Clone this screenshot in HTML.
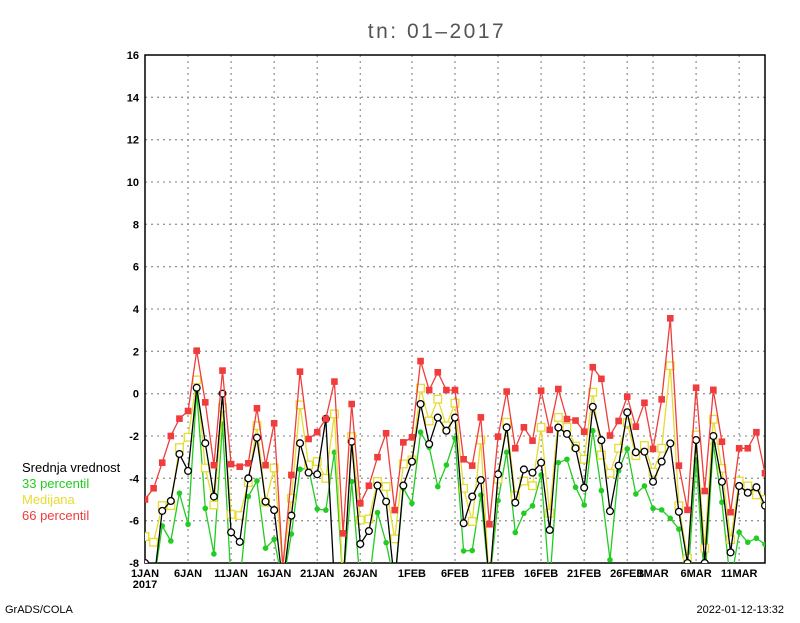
<!DOCTYPE html>
<html><head><meta charset="utf-8"><style>
body{margin:0;background:#fff;}
svg text{font-family:"Liberation Sans",sans-serif;}
</style></head><body>
<svg id="chart" width="800" height="618" viewBox="0 0 800 618" xmlns="http://www.w3.org/2000/svg">
<rect width="800" height="618" fill="#fff"/>
<text x="437" y="38" text-anchor="middle" font-size="21" fill="#555" letter-spacing="2.5">tn: 01–2017</text>
<defs><clipPath id="pc"><rect x="145" y="55" width="620" height="508"/></clipPath></defs>
<g id="grid"></g>
<g id="axes"></g>
<g id="series" clip-path="url(#pc)"></g>
<g font-size="13">
<text x="22" y="472" fill="#000">Srednja vrednost</text>
<text x="22" y="488" fill="#22cc22">33 percentil</text>
<text x="22" y="504" fill="#e6dc32">Medijana</text>
<text x="22" y="520" fill="#f03c3c">66 percentil</text>
</g>
<text x="5" y="613" font-size="11">GrADS/COLA</text>
<text x="784" y="613" font-size="11" text-anchor="end">2022-01-12-13:32</text>
</svg>
<script>
const yTicks=[-8,-6,-4,-2,0,2,4,6,8,10,12,14,16];
const xTickDays=[0,5,10,15,20,25,31,36,41,46,51,56,59,64,69];
const xTickLabels=["1JAN","6JAN","11JAN","16JAN","21JAN","26JAN","1FEB","6FEB","11FEB","16FEB","21FEB","26FEB","1MAR","6MAR","11MAR"];
const p66=[-5.0,-4.47,-3.26,-2.0,-1.18,-0.82,2.03,-0.41,-3.38,1.09,-3.33,-3.45,-3.29,-0.69,-3.38,-1.4,-8.2,-3.84,1.04,-2.14,-1.82,-1.19,0.57,-6.6,-0.49,-5.18,-4.35,-3.0,-1.87,-5.5,-2.3,-2.06,1.54,0.17,1.01,0.17,0.17,-3.1,-3.4,-1.12,-6.17,-2.03,0.1,-2.58,-1.59,-2.22,0.14,-1.71,0.22,-1.2,-1.27,-1.8,1.25,0.7,-1.98,-1.29,-0.14,-1.56,-0.43,-2.61,-0.27,3.56,-3.4,-5.49,0.28,-4.6,0.18,-2.27,-5.6,-2.58,-2.58,-1.82,-3.76];
const median=[-6.75,-7.02,-5.29,-5.29,-2.55,-2.06,0.65,-3.51,-5.26,-0.66,-5.7,-5.76,-4.2,-1.51,-5.13,-3.51,-8.2,-4.94,-0.53,-3.37,-3.21,-4.0,-0.96,-9,-2.03,-5.97,-5.92,-4.15,-4.39,-6.86,-3.32,-3.13,0.26,-1.29,-0.26,-1.52,-0.45,-4.47,-6.04,-2.19,-9,-4.04,-1.35,-4.82,-4.13,-4.35,-1.59,-5.65,-1.12,-1.59,-2.48,-3.1,0.07,-2.9,-3.76,-2.58,-1.37,-2.93,-2.45,-3.71,-2.58,1.32,-5.29,-7.78,-1.95,-7.3,-1.21,-3.53,-6.9,-4.13,-4.36,-4.78,-5.0];
const mean=[-8,-9,-5.54,-5.07,-2.85,-3.65,0.28,-2.34,-4.86,0.0,-6.55,-7.0,-4.0,-2.08,-5.1,-5.5,-9,-5.76,-2.34,-3.73,-3.81,-1.19,-9,-9,-2.27,-7.1,-6.49,-4.34,-5.1,-9,-4.34,-3.21,-0.49,-2.38,-1.13,-1.75,-1.13,-6.12,-4.86,-4.08,-9,-3.81,-1.59,-5.15,-3.58,-3.73,-3.26,-6.44,-1.6,-1.9,-2.58,-4.44,-0.62,-2.2,-5.55,-3.4,-0.88,-2.77,-2.74,-4.16,-3.21,-2.35,-5.58,-8,-2.19,-8,-2.0,-4.16,-7.5,-4.36,-4.68,-4.42,-5.29];
const p33=[-9,-9,-6.25,-6.96,-4.7,-6.17,0.1,-5.42,-7.57,-1.43,-9,-9,-4.86,-4.12,-7.3,-6.88,-9,-6.63,-3.57,-3.52,-5.45,-5.5,-2.77,-9,-4.15,-9,-9,-5.62,-7.04,-9,-4.47,-5.18,-1.82,-2.53,-4.39,-3.37,-2.1,-7.43,-7.41,-4.79,-9,-5.05,-2.77,-6.56,-5.65,-5.3,-3.84,-9,-3.26,-3.1,-4.42,-5.26,-1.75,-4.58,-7.85,-3.64,-2.61,-4.74,-4.36,-5.42,-5.49,-5.89,-6.4,-9,-3.18,-9,-2.38,-5.13,-9,-6.55,-7.02,-6.83,-7.12];

const X0=145,X1=765,Y0=55,Y1=563,DAYS=72,YMIN=-8,YMAX=16;
const xs=d=>X0+(X1-X0)*d/DAYS;
const ys=v=>Y1-(v-YMIN)/(YMAX-YMIN)*(Y1-Y0);
const NS="http://www.w3.org/2000/svg";
function mk(t,a,p){const e=document.createElementNS(NS,t);for(const k in a)e.setAttribute(k,a[k]);p.appendChild(e);return e;}
const grid=document.getElementById('grid'),axes=document.getElementById('axes'),ser=document.getElementById('series');
yTicks.forEach(v=>{
  if(v>YMIN&&v<YMAX){const l=mk('line',{x1:X0,x2:X1,y1:ys(v),y2:ys(v),stroke:'#999','stroke-dasharray':'2,4','stroke-width':1.3},grid);
  
  }
  const t=mk('text',{x:X0-6,y:ys(v)+4,'text-anchor':'end','font-size':11,'font-weight':'bold'},axes);
  t.textContent=v;
  
  
});
xTickDays.forEach((d,i)=>{
  if(d>0){const l=mk('line',{x1:xs(d),x2:xs(d),y1:Y0,y2:Y1,stroke:'#999','stroke-dasharray':'2,4','stroke-width':1.3},grid);
  
  }
  const t=mk('text',{x:xs(d),y:Y1+14,'text-anchor':'middle','font-size':11,'font-weight':'bold'},axes);
  t.textContent=xTickLabels[i];
  
  
});
const yr=mk('text',{x:X0,y:Y1+25,'text-anchor':'middle','font-size':11,'font-weight':'bold'},axes);
yr.textContent='2017';


const fr=mk('rect',{x:X0,y:Y0,width:X1-X0,height:Y1-Y0,fill:'none',stroke:'#000','stroke-width':1.5},axes);


function series(arr,color,name,marker){
  const pts=arr.map((v,i)=>xs(i).toFixed(1)+','+ys(v).toFixed(1)).join(' ');
  const pl=mk('polyline',{points:pts,fill:'none',stroke:color,'stroke-width':1.3},ser);
  
  
  arr.forEach((v,i)=>{
    const x=xs(i),y=ys(v);let m;
    if(marker==='fsq')m=mk('rect',{x:x-3.3,y:y-3.3,width:6.6,height:6.6,fill:color},ser);
    else if(marker==='osq')m=mk('rect',{x:x-3.8,y:y-3.8,width:7.6,height:7.6,fill:'#fff',stroke:color,'stroke-width':1.3},ser);
    else if(marker==='oc')m=mk('circle',{cx:x,cy:y,r:3.4,fill:'#fff',stroke:color,'stroke-width':1.3},ser);
    else m=mk('circle',{cx:x,cy:y,r:2.8,fill:color},ser);
    
    
  });
}
series(p33,'#22cc22','p33','fc');
series(median,'#e6dc32','median','osq');
series(mean,'#000','mean','oc');
series(p66,'#f03c3c','p66','fsq');
</script>
</body></html>
